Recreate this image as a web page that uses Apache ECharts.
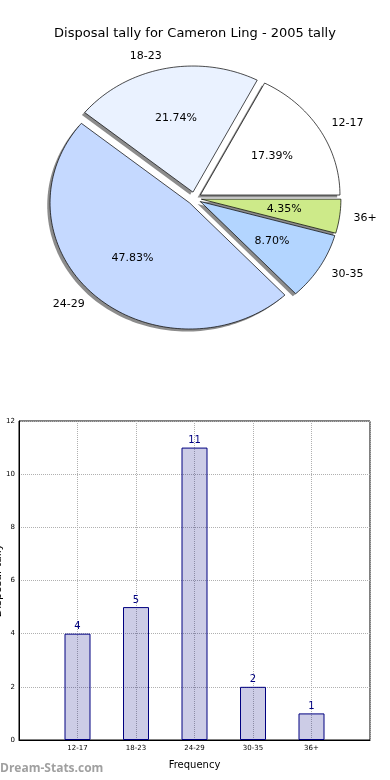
<!DOCTYPE html>
<html><head><meta charset="utf-8">
<script src="https://cdn.jsdelivr.net/npm/echarts@6/dist/echarts.min.js"></script>
<style>html,body{margin:0;padding:0;background:#fff}#c{width:390px;height:780px}</style>
</head><body><div id="c"></div>
<script>
const titleText = 'Disposal tally for Cameron Ling - 2005 tally';
const categories = ['12-17', '18-23', '24-29', '30-35', '36+'];
const tally = [4, 5, 11, 2, 1];
const yTicks = [0, 2, 4, 6, 8, 10, 12];
const xName = 'Frequency';
const yName = 'Disposal tally';
const watermark = 'Dream-Stats.com';

const sliceColors = ['#ffffff', '#eaf2ff', '#c5d9ff', '#b3d5ff', '#cdea89'];
const total = tally.reduce((a, b) => a + b, 0);
const cum = []; let acc = 0; tally.forEach(v => { cum.push(acc); acc += v; });
const EXPLODE = 0.05, SHADOW = 0.02;
const FONT = '"DejaVu Sans", sans-serif';

function renderSlice(params, api) {
  const i = params.dataIndex;
  const v = api.value(1);
  const a0 = cum[i] / total * 2 * Math.PI, a1 = (cum[i] + v) / total * 2 * Math.PI;
  const mid = (a0 + a1) / 2;
  const ex = EXPLODE * Math.cos(mid), ey = EXPLODE * Math.sin(mid);
  const pts = (dx, dy) => {
    const p = [api.coord([ex + dx, ey + dy])];
    const n = Math.max(8, Math.ceil((a1 - a0) / (Math.PI / 120)));
    for (let k = 0; k <= n; k++) {
      const a = a0 + (a1 - a0) * k / n;
      p.push(api.coord([ex + dx + Math.cos(a), ey + dy + Math.sin(a)]));
    }
    return p;
  };
  const pctPos = api.coord([ex + 0.6 * Math.cos(mid), ey + 0.6 * Math.sin(mid)]);
  const labPos = api.coord([ex + 1.1 * Math.cos(mid), ey + 1.1 * Math.sin(mid)]);
  return {
    type: 'group',
    children: [
      { type: 'polygon', shape: { points: pts(-SHADOW, -SHADOW) }, style: { fill: '#8c8c8c' }, z2: 0 },
      { type: 'polygon', shape: { points: pts(0, 0) }, style: { fill: sliceColors[i], stroke: '#000', lineWidth: 0.7 }, z2: 10 },
      { type: 'text', x: pctPos[0], y: pctPos[1], style: { text: (v / total * 100).toFixed(2) + '%', fill: '#000', font: '11px ' + FONT, align: 'center', verticalAlign: 'middle' }, z2: 20 },
      { type: 'text', x: labPos[0], y: labPos[1], style: { text: categories[i], fill: '#000', font: '11px ' + FONT, align: Math.cos(mid) > 0 ? 'left' : 'right', verticalAlign: 'middle' }, z2: 20 }
    ]
  };
}

const xCats = [''].concat(categories, ['']);
const barData = [null].concat(tally, [null]);

const chart = echarts.init(document.getElementById('c'), null, { renderer: 'canvas' });
chart.setOption({
  animation: false,
  backgroundColor: '#fff',
  title: { text: titleText, left: 'center', top: 22, textStyle: { fontFamily: FONT, fontSize: 13, fontWeight: 'normal', color: '#000' } },
  grid: [
    { left: 19, right: 20, top: 421, bottom: 40, show: true, borderColor: '#000', borderWidth: 1, backgroundColor: 'transparent', containLabel: false, outerBoundsMode: 'none' },
    { left: 54.8, top: 72.2, width: 279.2, height: 252.2, show: false, containLabel: false, outerBoundsMode: 'none' }
  ],
  xAxis: [
    {
      type: 'category', gridIndex: 0, data: xCats, boundaryGap: false,
      axisLine: { lineStyle: { color: '#000', width: 1 } },
      axisTick: { show: false },
      axisLabel: { interval: 0, fontSize: 7, fontFamily: FONT, color: '#000', margin: 5 },
      splitLine: { show: true, lineStyle: { type: 'dotted', color: '#b0b0b0', width: 1 } },
      name: xName, nameLocation: 'middle', nameGap: 20, nameMoveOverlap: false,
      nameTextStyle: { fontFamily: FONT, fontSize: 10, color: '#000' }
    },
    { type: 'value', gridIndex: 1, min: -1, max: 1, show: false }
  ],
  yAxis: [
    {
      type: 'value', gridIndex: 0, min: yTicks[0], max: yTicks[yTicks.length - 1], interval: yTicks[1] - yTicks[0],
      axisLine: { show: true, lineStyle: { color: '#000', width: 1 } },
      axisTick: { show: false },
      axisLabel: { fontSize: 7, fontFamily: FONT, color: '#000', margin: 4 },
      splitLine: { show: true, lineStyle: { type: 'dotted', color: '#b0b0b0', width: 1 } },
      name: yName, nameLocation: 'middle', nameGap: 15, nameMoveOverlap: false,
      nameTextStyle: { fontFamily: FONT, fontSize: 11, color: '#000' }
    },
    { type: 'value', gridIndex: 1, min: -1, max: 1, show: false }
  ],
  series: [
    {
      type: 'bar', xAxisIndex: 0, yAxisIndex: 0, data: barData, barWidth: 26,
      itemStyle: { color: 'rgba(0,0,128,0.2)', borderColor: '#000080', borderWidth: 1 },
      label: { show: true, position: 'top', distance: 2, color: '#000080', fontSize: 10, fontFamily: FONT }
    },
    {
      type: 'custom', coordinateSystem: 'cartesian2d', xAxisIndex: 1, yAxisIndex: 1,
      data: tally.map((v, i) => [i, v]), renderItem: renderSlice, clip: false, silent: true
    }
  ],
  graphic: [
    { type: 'text', left: 0, top: 763, style: { text: watermark, fill: '#a0a0a0', font: 'bold 12px "Open Sans", sans-serif' } }
  ]
});
</script></body></html>
